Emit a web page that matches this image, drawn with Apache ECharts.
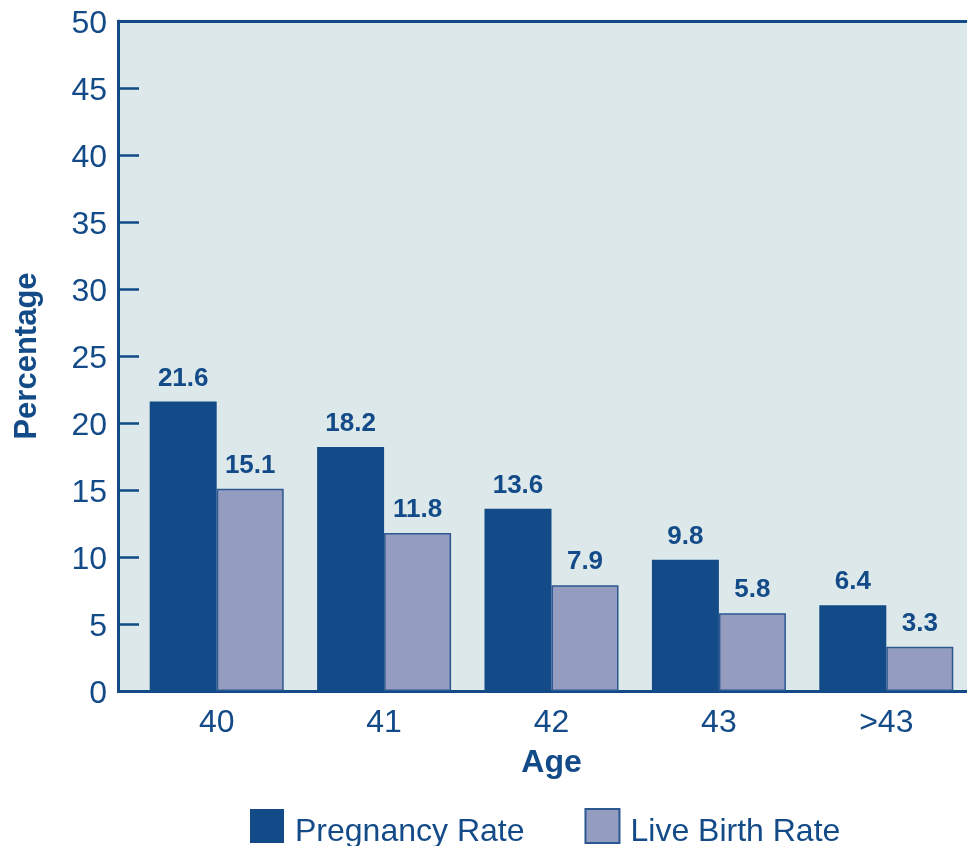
<!DOCTYPE html>
<html>
<head>
<meta charset="utf-8">
<script src="https://cdn.jsdelivr.net/npm/echarts@6/dist/echarts.min.js"></script>
<style>
  html, body { margin: 0; padding: 0; background: #fff; }
  #main { width: 967px; height: 846px; }
</style>
</head>
<body>
<div id="main"></div>
<script>
  // data
  var ages = ['40', '41', '42', '43', '>43'];
  var pregnancyRate = [21.6, 18.2, 13.6, 9.8, 6.4];
  var liveBirthRate = [15.1, 11.8, 7.9, 5.8, 3.3];

  var dark = '#134a88';
  var light = '#949cc0';
  var bg = '#dce8e9';
  var font = '"Liberation Sans", Arial, sans-serif';

  var myChart = echarts.init(document.getElementById('main'));
  var option = {
    animation: false,
    textStyle: { fontFamily: font },
    grid: {
      left: 133, top: 21, right: -3, bottom: 155,
      outerBoundsMode: 'none',
      show: true, backgroundColor: bg, borderWidth: 0
    },
    // the plot area starts a little left of the first bar group
    graphic: [
      { type: 'rect', z: -1, shape: { x: 119, y: 21, width: 16, height: 670 }, style: { fill: bg } },
      { type: 'line', z: 10, shape: { x1: 117, y1: 21.5, x2: 967, y2: 21.5 }, style: { stroke: dark, lineWidth: 3 } },
      { type: 'line', z: 10, shape: { x1: 117, y1: 691.5, x2: 136, y2: 691.5 }, style: { stroke: dark, lineWidth: 3 } }
    ],
    legend: {
      left: 245, top: 803,
      itemWidth: 34, itemHeight: 34, itemGap: 60,
      icon: 'rect',
      formatter: '{t|{name}}',
      textStyle: {
        color: dark, fontFamily: font,
        rich: { t: { fontSize: 32, color: dark, fontFamily: font, padding: [13, 0, 0, 6] } }
      },
      data: ['Pregnancy Rate', 'Live Birth Rate']
    },
    xAxis: {
      type: 'category',
      data: ages,
      name: 'Age',
      nameLocation: 'middle',
      nameGap: 56,
      nameTextStyle: { fontSize: 32, fontWeight: 'bold', color: dark, fontFamily: font },
      axisLine: { lineStyle: { color: dark, width: 3 } },
      axisTick: { show: false },
      axisLabel: { fontSize: 32, color: dark, margin: 16, fontFamily: font }
    },
    yAxis: {
      type: 'value',
      min: 0, max: 50, interval: 5,
      offset: 15,
      name: 'Percentage',
      nameLocation: 'middle',
      nameGap: 75,
      nameTextStyle: { fontSize: 31, fontWeight: 'bold', color: dark, fontFamily: font },
      axisLine: { show: true, lineStyle: { color: dark, width: 3 } },
      axisTick: { show: true, inside: true, length: 21, lineStyle: { color: dark, width: 2.5 } },
      axisLabel: {
        margin: 11,
        formatter: '{v|{value}}',
        rich: { v: { fontSize: 32, color: dark, fontFamily: font, padding: [6, 0, 0, 0] } }
      },
      splitLine: { show: false }
    },
    series: [
      {
        name: 'Pregnancy Rate',
        type: 'bar',
        data: pregnancyRate,
        barWidth: 67,
        barGap: '0%',
        itemStyle: { color: dark },
        label: { show: true, position: 'top', distance: 10, fontSize: 26, fontWeight: 'bold', color: dark, fontFamily: font }
      },
      {
        name: 'Live Birth Rate',
        type: 'bar',
        data: liveBirthRate,
        barWidth: 67,
        barGap: '0%',
        itemStyle: { color: light, borderColor: '#2c5790', borderWidth: 1.5 },
        label: { show: true, position: 'top', distance: 10, fontSize: 26, fontWeight: 'bold', color: dark, fontFamily: font }
      }
    ]
  };
  myChart.setOption(option);
</script>
</body>
</html>
